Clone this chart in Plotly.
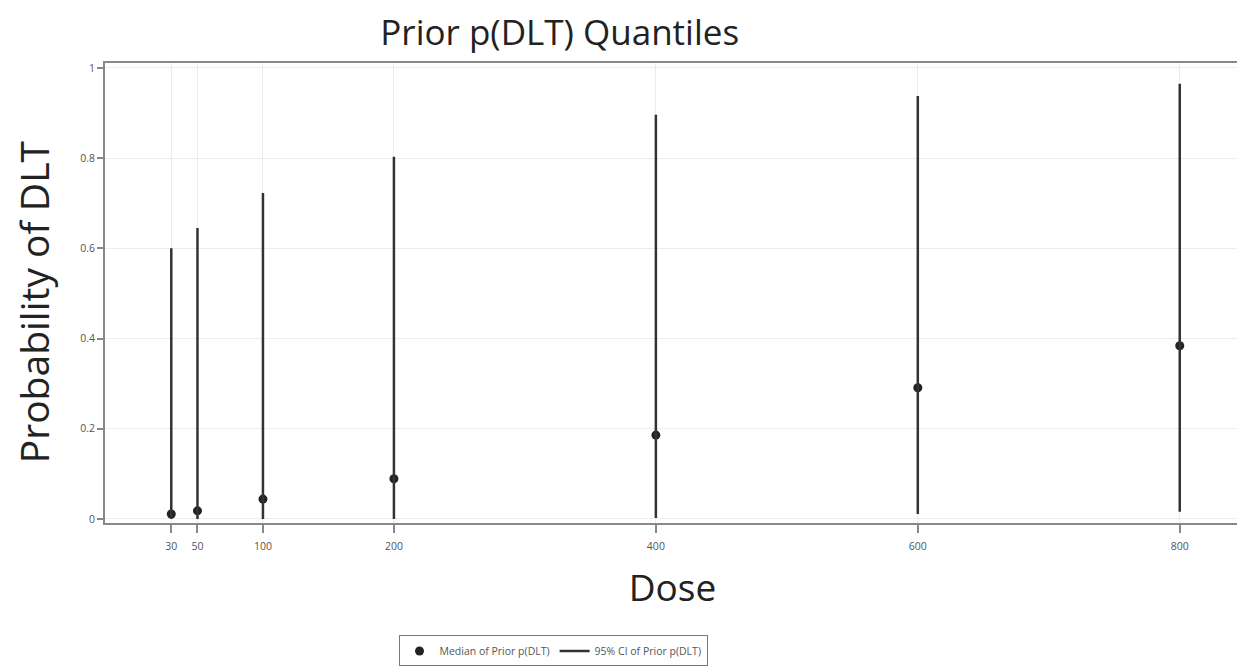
import plotly.graph_objects as go

doses = [30, 50, 100, 200, 400, 600, 800]
median = [0.011, 0.018, 0.044, 0.089, 0.186, 0.291, 0.384]
lower = [0.0, 0.0, 0.0, 0.0, 0.002, 0.011, 0.016]
upper = [0.600, 0.645, 0.723, 0.803, 0.896, 0.938, 0.965]
x_ticks = [30, 50, 100, 200, 400, 600, 800]
y_ticks = [0, 0.2, 0.4, 0.6, 0.8, 1]
y_tick_labels = ["0", "0.2", "0.4", "0.6", "0.8", "1"]

ci_x, ci_y = [], []
for d, lo, hi in zip(doses, lower, upper):
    ci_x += [d, d, None]
    ci_y += [lo, hi, None]

FONT = "Open Sans, Lato, sans-serif"

fig = go.Figure()
fig.add_trace(go.Scatter(
    x=doses, y=median, mode="markers", name="Median of Prior p(DLT)",
    marker=dict(color="#222222", size=9, symbol="circle"),
))
fig.add_trace(go.Scatter(
    x=ci_x, y=ci_y, mode="lines", name="95% CI of Prior p(DLT)",
    line=dict(color="#333333", width=2.5),
))

axis_common = dict(
    showline=True, linecolor="#888888", linewidth=2, mirror=True,
    ticks="outside", tickcolor="#888888", tickwidth=1.5,
    showgrid=True, gridcolor="#ececec", gridwidth=1, zeroline=False,
    automargin=False,
    tickfont=dict(family=FONT, size=10.5, color="#555555"),
)

# page body has an 8px margin, so the figure is sized to fit inside the window
fig.update_layout(
    width=1237, height=658,
    paper_bgcolor="white", plot_bgcolor="white",
    margin=dict(l=97, r=5, t=55, b=143, autoexpand=False),
    title=dict(text="Prior p(DLT) Quantiles", x=0.446, xanchor="center", xref="container",
               y=0.962, yanchor="middle", yref="container",
               font=dict(family=FONT, size=35, color="#222222")),
    xaxis=dict(range=[-20.6, 846], tickmode="array", tickvals=x_ticks,
               ticktext=[str(v) for v in x_ticks], ticklen=8, ticklabelstandoff=4,
               title=dict(text="Dose", standoff=24,
                          font=dict(family=FONT, size=37, color="#222222")),
               **axis_common),
    yaxis=dict(range=[-0.009, 1.011], tickmode="array", tickvals=y_ticks,
               ticktext=y_tick_labels, ticklen=6,
               **axis_common),
    annotations=[dict(text="Probability of DLT", textangle=-90,
                      x=-0.0634, xref="paper", xanchor="center",
                      y=0.480, yref="paper", yanchor="middle", showarrow=False,
                      font=dict(family=FONT, size=39, color="#222222"))],
    showlegend=True,
    legend=dict(orientation="h", x=0.4406, xanchor="center", xref="container",
                y=0.0228, yanchor="middle", yref="container",
                bordercolor="#777777", borderwidth=1, bgcolor="white",
                font=dict(family=FONT, size=10.5, color="#555555"),
                itemwidth=30, tracegroupgap=0),
)

fig.write_html("out.html")
